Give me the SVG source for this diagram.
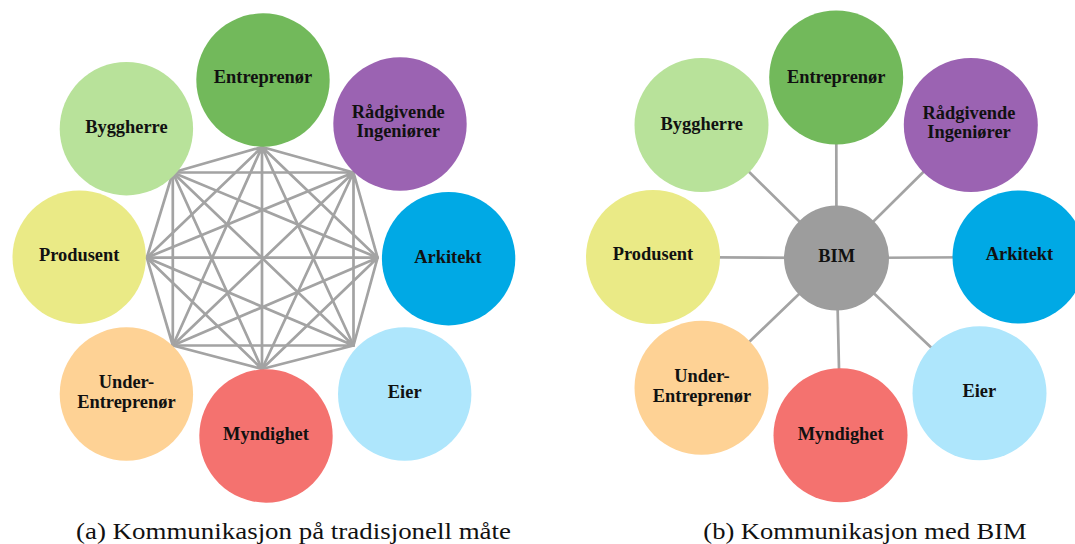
<svg xmlns="http://www.w3.org/2000/svg" width="1075" height="544" viewBox="0 0 1075 544">
<style>
.c{stroke:none}
.l{stroke:#a3a3a3;stroke-width:2.7;fill:none;stroke-linecap:round}
.t{font-family:"Liberation Serif",serif;font-weight:bold;font-size:18.4px;fill:#111;text-anchor:middle}
.cap{font-family:"Liberation Serif",serif;font-size:23px;fill:#111}
.g1{fill:#b8e29a}.g2{fill:#72b95b}.pu{fill:#9b63b2}.bl{fill:#00a9e5}.lb{fill:#aee6fc}.rd{fill:#f4726f}.or{fill:#fed295}.ye{fill:#eaea86}.gr{fill:#9d9d9d}
</style>
<g id="connectors-a" class="l">
<path d="M262,147L353.5,172.5M262,147L377.6,257.7M262,147L353.5,345.5M262,147L262,369M262,147L172.8,345.5M262,147L146.8,257.7M262,147L172.8,172.5"/>
<path d="M353.5,172.5L377.6,257.7M353.5,172.5L353.5,345.5M353.5,172.5L262,369M353.5,172.5L172.8,345.5M353.5,172.5L146.8,257.7M353.5,172.5L172.8,172.5"/>
<path d="M377.6,257.7L353.5,345.5M377.6,257.7L262,369M377.6,257.7L172.8,345.5M377.6,257.7L146.8,257.7M377.6,257.7L172.8,172.5"/>
<path d="M353.5,345.5L262,369M353.5,345.5L172.8,345.5M353.5,345.5L146.8,257.7M353.5,345.5L172.8,172.5"/>
<path d="M262,369L172.8,345.5M262,369L146.8,257.7M262,369L172.8,172.5"/>
<path d="M172.8,345.5L146.8,257.7M172.8,345.5L172.8,172.5"/>
<path d="M146.8,257.7L172.8,172.5"/>
</g>
<g id="connectors-b" class="l">
<path d="M836.5,258L701.5,125M836.5,258L836.2,77.5M836.5,258L970.8,125M836.5,258L1019,257M836.5,258L979.5,393.3M836.5,258L840.5,435.3M836.5,258L701.5,387.8M836.5,258L653,257"/>
</g>
<g id="a-byggherre"><circle class="g1" cx="126.4" cy="128.7" r="66.7"/><text class="t" x="126.4" y="133.3">Byggherre</text></g>
<g id="a-entreprenor"><circle class="g2" cx="263" cy="80" r="66.7"/><text class="t" x="263" y="83.3">Entreprenør</text></g>
<g id="a-radgivende"><circle class="pu" cx="400" cy="124" r="66.7"/><text class="t" x="398.3" y="118.3">Rådgivende</text><text class="t" x="398.3" y="136.7">Ingeniører</text></g>
<g id="a-arkitekt"><circle class="bl" cx="448.6" cy="258.7" r="66.7"/><text class="t" x="448" y="263">Arkitekt</text></g>
<g id="a-eier"><circle class="lb" cx="404.7" cy="394" r="66.7"/><text class="t" x="404.7" y="398.3">Eier</text></g>
<g id="a-myndighet"><circle class="rd" cx="266" cy="436" r="66.7"/><text class="t" x="266" y="440">Myndighet</text></g>
<g id="a-underentreprenor"><circle class="or" cx="126.4" cy="394" r="66.7"/><text class="t" x="126.4" y="388.3">Under-</text><text class="t" x="126.4" y="407.7">Entreprenør</text></g>
<g id="a-produsent"><circle class="ye" cx="79.2" cy="257.2" r="66.7"/><text class="t" x="79.2" y="260.7">Produsent</text></g>
<g id="b-byggherre"><circle class="g1" cx="701.5" cy="125" r="67"/><text class="t" x="701.8" y="130">Byggherre</text></g>
<g id="b-entreprenor"><circle class="g2" cx="836.2" cy="77.5" r="67"/><text class="t" x="836.2" y="82.7">Entreprenør</text></g>
<g id="b-radgivende"><circle class="pu" cx="970.8" cy="125" r="67"/><text class="t" x="969" y="119">Rådgivende</text><text class="t" x="969" y="138.3">Ingeniører</text></g>
<g id="b-arkitekt"><circle class="bl" cx="1019" cy="257" r="66.5"/><text class="t" x="1019.5" y="260">Arkitekt</text></g>
<g id="b-eier"><circle class="lb" cx="979.5" cy="393.3" r="67"/><text class="t" x="979.3" y="396.7">Eier</text></g>
<g id="b-myndighet"><circle class="rd" cx="840.5" cy="435.3" r="67"/><text class="t" x="840.7" y="440">Myndighet</text></g>
<g id="b-underentreprenor"><circle class="or" cx="701.5" cy="387.8" r="67"/><text class="t" x="702" y="381.7">Under-</text><text class="t" x="702" y="401.7">Entreprenør</text></g>
<g id="b-produsent"><circle class="ye" cx="653" cy="257" r="67"/><text class="t" x="653" y="260">Produsent</text></g>
<g id="b-bim"><circle class="gr" cx="836.5" cy="258" r="52.5"/><text class="t" x="836.7" y="261.7">BIM</text></g>
<text class="cap" x="76" y="539" textLength="435" lengthAdjust="spacingAndGlyphs">(a) Kommunikasjon på tradisjonell måte</text>
<text class="cap" x="703.3" y="539" textLength="323.4" lengthAdjust="spacingAndGlyphs">(b) Kommunikasjon med BIM</text>
</svg>
